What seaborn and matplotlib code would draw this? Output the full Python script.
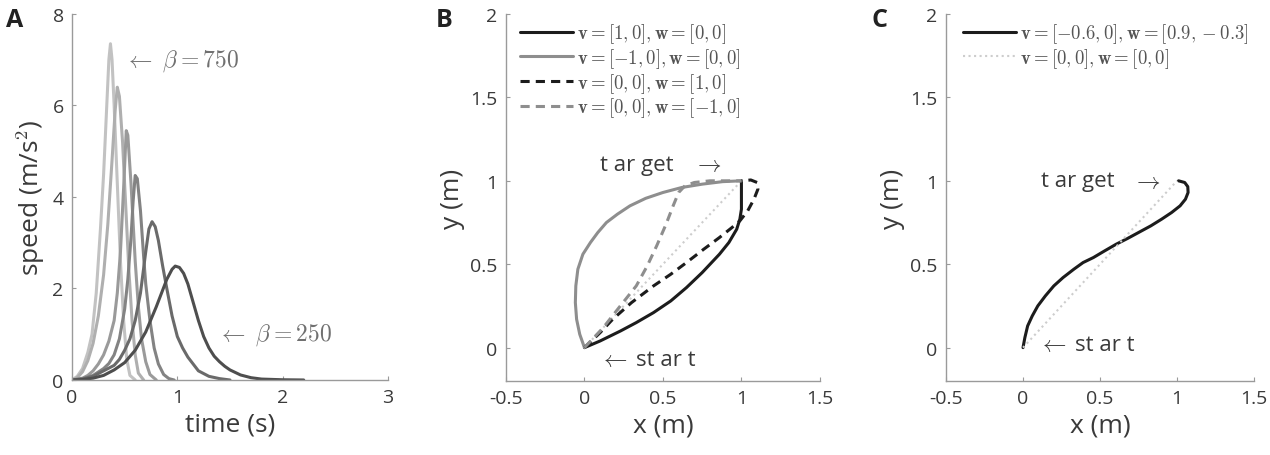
import numpy as np
import pandas as pd
import matplotlib
matplotlib.use('Agg')
import matplotlib.pyplot as plt
import seaborn as sns

# --- panel A: speed profiles, beta = 750 (light, left) ... 250 (dark, right)
betas = [750, 650, 550, 450, 350, 250]
t_b750 = [0, 0.05, 0.1, 0.15, 0.19, 0.23, 0.27, 0.3, 0.33, 0.35, 0.365, 0.38, 0.4, 0.43, 0.46, 0.49, 0.52, 0.55, 0.6]
s_b750 = [0, 0.08, 0.25, 0.6, 1.0, 1.9, 3.3, 4.5, 6.0, 7.0, 7.35, 7.0, 6.0, 4.3, 2.6, 1.3, 0.45, 0.1, 0]
t_b650 = [0, 0.05, 0.1, 0.15, 0.2, 0.25, 0.3, 0.34, 0.38, 0.41, 0.43, 0.45, 0.48, 0.51, 0.54, 0.57, 0.6, 0.63, 0.68]
s_b650 = [0, 0.05, 0.18, 0.42, 0.8, 1.4, 2.3, 3.4, 4.8, 5.9, 6.4, 6.2, 5.2, 3.8, 2.4, 1.3, 0.55, 0.15, 0]
t_b550 = [0, 0.1, 0.15, 0.2, 0.25, 0.3, 0.35, 0.4, 0.43, 0.46, 0.49, 0.515, 0.53, 0.56, 0.6, 0.63, 0.66, 0.7, 0.74, 0.8]
s_b550 = [0, 0.04, 0.1, 0.2, 0.35, 0.55, 0.85, 1.3, 1.9, 2.8, 4.2, 5.45, 5.35, 4.3, 2.6, 1.6, 0.9, 0.4, 0.12, 0]
t_b450 = [0, 0.1, 0.2, 0.3, 0.35, 0.4, 0.45, 0.5, 0.53, 0.56, 0.58, 0.6, 0.62, 0.65, 0.68, 0.7, 0.74, 0.78, 0.82, 0.87, 0.92, 0.97]
s_b450 = [0, 0.03, 0.1, 0.25, 0.36, 0.55, 0.9, 1.55, 2.2, 3.1, 3.9, 4.47, 4.4, 3.7, 2.7, 2.1, 1.3, 0.7, 0.35, 0.12, 0.03, 0]
t_b350 = [0, 0.1, 0.2, 0.3, 0.4, 0.45, 0.5, 0.55, 0.6, 0.65, 0.7, 0.73, 0.76, 0.79, 0.82, 0.86, 0.9, 0.95, 1.0, 1.05, 1.1, 1.2, 1.3, 1.4, 1.5]
s_b350 = [0, 0.02, 0.08, 0.2, 0.32, 0.45, 0.65, 0.9, 1.3, 1.9, 2.8, 3.3, 3.46, 3.35, 3.05, 2.5, 2.0, 1.4, 0.95, 0.7, 0.5, 0.2, 0.08, 0.03, 0]
t_b250 = [0, 0.1, 0.2, 0.3, 0.4, 0.5, 0.6, 0.7, 0.8, 0.85, 0.9, 0.95, 0.98, 1.02, 1.06, 1.1, 1.15, 1.2, 1.25, 1.3, 1.35, 1.4, 1.45, 1.5, 1.6, 1.7, 1.8, 2.0, 2.2]
s_b250 = [0, 0.01, 0.04, 0.1, 0.22, 0.38, 0.65, 1.05, 1.6, 1.9, 2.2, 2.42, 2.49, 2.46, 2.33, 2.1, 1.7, 1.3, 0.95, 0.7, 0.52, 0.4, 0.3, 0.22, 0.11, 0.05, 0.02, 0.005, 0]
beta_greys = ['#c2c2c2', '#afafaf', '#9a9a9a', '#838383', '#6a6a6a', '#4e4e4e']

# --- panel B: hand paths for different v, w
bx_v10 = [0, 0.1, 0.23, 0.33, 0.44, 0.55, 0.65, 0.75, 0.86, 0.92, 0.97, 0.99, 1.0, 1.0, 1.0]
by_v10 = [0, 0.04, 0.1, 0.15, 0.21, 0.28, 0.36, 0.45, 0.56, 0.63, 0.71, 0.77, 0.83, 0.92, 1.0]
bx_vm10 = [0, -0.03, -0.05, -0.058, -0.055, -0.042, -0.01, 0.038, 0.085, 0.14, 0.21, 0.29, 0.39, 0.5, 0.62, 0.75, 0.88, 1.0]
by_vm10 = [0, 0.08, 0.17, 0.27, 0.37, 0.47, 0.56, 0.63, 0.69, 0.75, 0.8, 0.85, 0.895, 0.93, 0.96, 0.98, 0.995, 1.0]
bx_w10 = [0, 0.1, 0.18, 0.3, 0.44, 0.55, 0.65, 0.76, 0.86, 0.94, 0.99, 1.04, 1.08, 1.105, 1.1, 1.06, 1.0]
by_w10 = [0, 0.09, 0.17, 0.27, 0.37, 0.44, 0.51, 0.59, 0.66, 0.72, 0.76, 0.82, 0.89, 0.95, 0.99, 1.005, 1.0]
bx_wm10 = [0, 0.12, 0.22, 0.33, 0.4, 0.46, 0.52, 0.565, 0.6, 0.64, 0.7, 0.8, 1.0]
by_wm10 = [0, 0.12, 0.24, 0.37, 0.49, 0.61, 0.74, 0.85, 0.93, 0.97, 0.99, 1.0, 1.0]
straight_x = [0, 1]
straight_y = [0, 1]
labels_b = [r'$\mathbf{v} = [1, 0], \mathbf{w} = [0, 0]$',
            r'$\mathbf{v} = [-1, 0], \mathbf{w} = [0, 0]$',
            r'$\mathbf{v} = [0, 0], \mathbf{w} = [1, 0]$',
            r'$\mathbf{v} = [0, 0], \mathbf{w} = [-1, 0]$']

# --- panel C
cx = [0, 0.012, 0.03, 0.06, 0.096, 0.145, 0.2, 0.26, 0.33, 0.39, 0.457, 0.53, 0.605,
      0.68, 0.75, 0.83, 0.9, 0.965, 1.02, 1.055, 1.072, 1.07, 1.05, 1.01]
cy = [0, 0.06, 0.13, 0.19, 0.25, 0.31, 0.37, 0.42, 0.47, 0.51, 0.54, 0.58, 0.62,
      0.655, 0.69, 0.73, 0.77, 0.81, 0.85, 0.89, 0.93, 0.965, 0.99, 1.0]
labels_c = [r'$\mathbf{v} = [-0.6, 0], \mathbf{w} = [0.9, -0.3]$',
            r'$\mathbf{v} = [0, 0], \mathbf{w} = [0, 0]$']

sns.set_style('ticks')
plt.rcParams['font.family'] = ['Open Sans', 'DejaVu Sans']
plt.rcParams['mathtext.fontset'] = 'cm'
plt.rcParams['axes.unicode_minus'] = False

BLACK = '#1c1c1c'
GREY = '#8e8e8e'
DOT = '#cdcdcd'
TXT = '#3a3a3a'

fig = plt.figure(figsize=(12.7, 4.56), dpi=100)
axA = fig.add_axes([0.0567, 0.1645, 0.2488, 0.8026])
axB = fig.add_axes([0.3984, 0.1623, 0.2472, 0.8048])
axC = fig.add_axes([0.7449, 0.1623, 0.2425, 0.8048])

# A
frames = []
for b, t, s in zip(betas, [t_b750, t_b650, t_b550, t_b450, t_b350, t_b250],
                   [s_b750, s_b650, s_b550, s_b450, s_b350, s_b250]):
    frames.append(pd.DataFrame({'t': t, 'speed': s, 'beta': b}))
df_a = pd.concat(frames, ignore_index=True)
sns.lineplot(data=df_a, x='t', y='speed', hue='beta', hue_order=betas,
             palette=beta_greys, estimator=None, sort=False, legend=False,
             linewidth=2.2, ax=axA)
axA.set_xlim(0, 3)
axA.set_ylim(0, 8)
axA.set_xticks([0, 1, 2, 3])
axA.set_yticks([0, 2, 4, 6, 8])
axA.set_xlabel('time (s)')
axA.set_ylabel('speed (m/s$^2$)')
axA.text(0.49, 7.0, r'$\leftarrow\ \beta = 750$', fontsize=17, color='#707070', va='center')
axA.text(1.38, 1.0, r'$\leftarrow\ \beta = 250$', fontsize=17, color='#707070', va='center')

# B
sns.lineplot(x=straight_x, y=straight_y, color=DOT, linestyle=':', linewidth=1.5,
             sort=False, estimator=None, ax=axB)
sns.lineplot(x=bx_v10, y=by_v10, color=BLACK, linewidth=2.2, sort=False,
             estimator=None, label=labels_b[0], ax=axB)
sns.lineplot(x=bx_vm10, y=by_vm10, color=GREY, linewidth=2.2, sort=False,
             estimator=None, label=labels_b[1], ax=axB)
sns.lineplot(x=bx_w10, y=by_w10, color=BLACK, linewidth=2.2, linestyle=(0, (3, 2)),
             sort=False, estimator=None, label=labels_b[2], ax=axB)
sns.lineplot(x=bx_wm10, y=by_wm10, color=GREY, linewidth=2.2, linestyle=(0, (3, 2)),
             sort=False, estimator=None, label=labels_b[3], ax=axB)
axB.legend(loc='upper left', bbox_to_anchor=(0.04, 0.985), frameon=False, fontsize=13.5,
           handlelength=2.8, handletextpad=0.2, labelspacing=0.05, borderaxespad=0,
           borderpad=0.1, labelcolor='#555555')
axB.text(0.1, 1.1, 't ar get', fontsize=16, color=TXT, va='center')
axB.text(0.78, 1.1, r'$\rightarrow$', fontsize=17, color=TXT, va='center', ha='center')
axB.text(0.18, -0.07, r'$\leftarrow$', fontsize=17, color=TXT, va='center', ha='center')
axB.text(0.33, -0.07, 'st ar t', fontsize=16, color=TXT, va='center')

# C
sns.lineplot(x=cx, y=cy, color=BLACK, linewidth=2.2, sort=False, estimator=None,
             label=labels_c[0], ax=axC)
sns.lineplot(x=straight_x, y=straight_y, color=DOT, linestyle=':', linewidth=1.5,
             sort=False, estimator=None, label=labels_c[1], ax=axC)
axC.legend(loc='upper left', bbox_to_anchor=(0.05, 0.985), frameon=False, fontsize=13.5,
           handlelength=2.8, handletextpad=0.2, labelspacing=0.05, borderaxespad=0,
           borderpad=0.1, labelcolor='#555555')
axC.text(0.115, 1.0, 't ar get', fontsize=16, color=TXT, va='center')
axC.text(0.8, 1.0, r'$\rightarrow$', fontsize=17, color=TXT, va='center', ha='center')
axC.text(0.19, 0.02, r'$\leftarrow$', fontsize=17, color=TXT, va='center', ha='center')
axC.text(0.34, 0.02, 'st ar t', fontsize=16, color=TXT, va='center')

xt = [-0.5, 0, 0.5, 1, 1.5]
yt = [0, 0.5, 1, 1.5, 2]
for ax in (axB, axC):
    ax.set_xlim(-0.5, 1.5)
    ax.set_ylim(-0.2, 2)
    ax.set_xticks(xt)
    ax.set_xticklabels(['-0.5', '0', '0.5', '1', '1.5'])
    ax.set_yticks(yt)
    ax.set_yticklabels(['0', '0.5', '1', '1.5', '2'])
    ax.set_xlabel('x (m)')
    ax.set_ylabel('y (m)')

for ax in (axA, axB, axC):
    sns.despine(ax=ax)
    for sp in ('left', 'bottom'):
        ax.spines[sp].set_color('#9a9a9a')
        ax.spines[sp].set_linewidth(1.0)
    ax.tick_params(direction='in', length=3, color='#9a9a9a', labelsize=14,
                   labelcolor=TXT, pad=6)
    ax.xaxis.label.set_size(19)
    ax.yaxis.label.set_size(19)
    ax.xaxis.label.set_color(TXT)
    ax.yaxis.label.set_color(TXT)
    ax.patch.set_alpha(0)

fig.text(0.005, 0.955, 'A', fontsize=18, fontweight='bold', color='#222222', va='center')
fig.text(0.343, 0.955, 'B', fontsize=18, fontweight='bold', color='#222222', va='center')
fig.text(0.686, 0.955, 'C', fontsize=18, fontweight='bold', color='#222222', va='center')

fig.savefig('out.png', dpi=100)
